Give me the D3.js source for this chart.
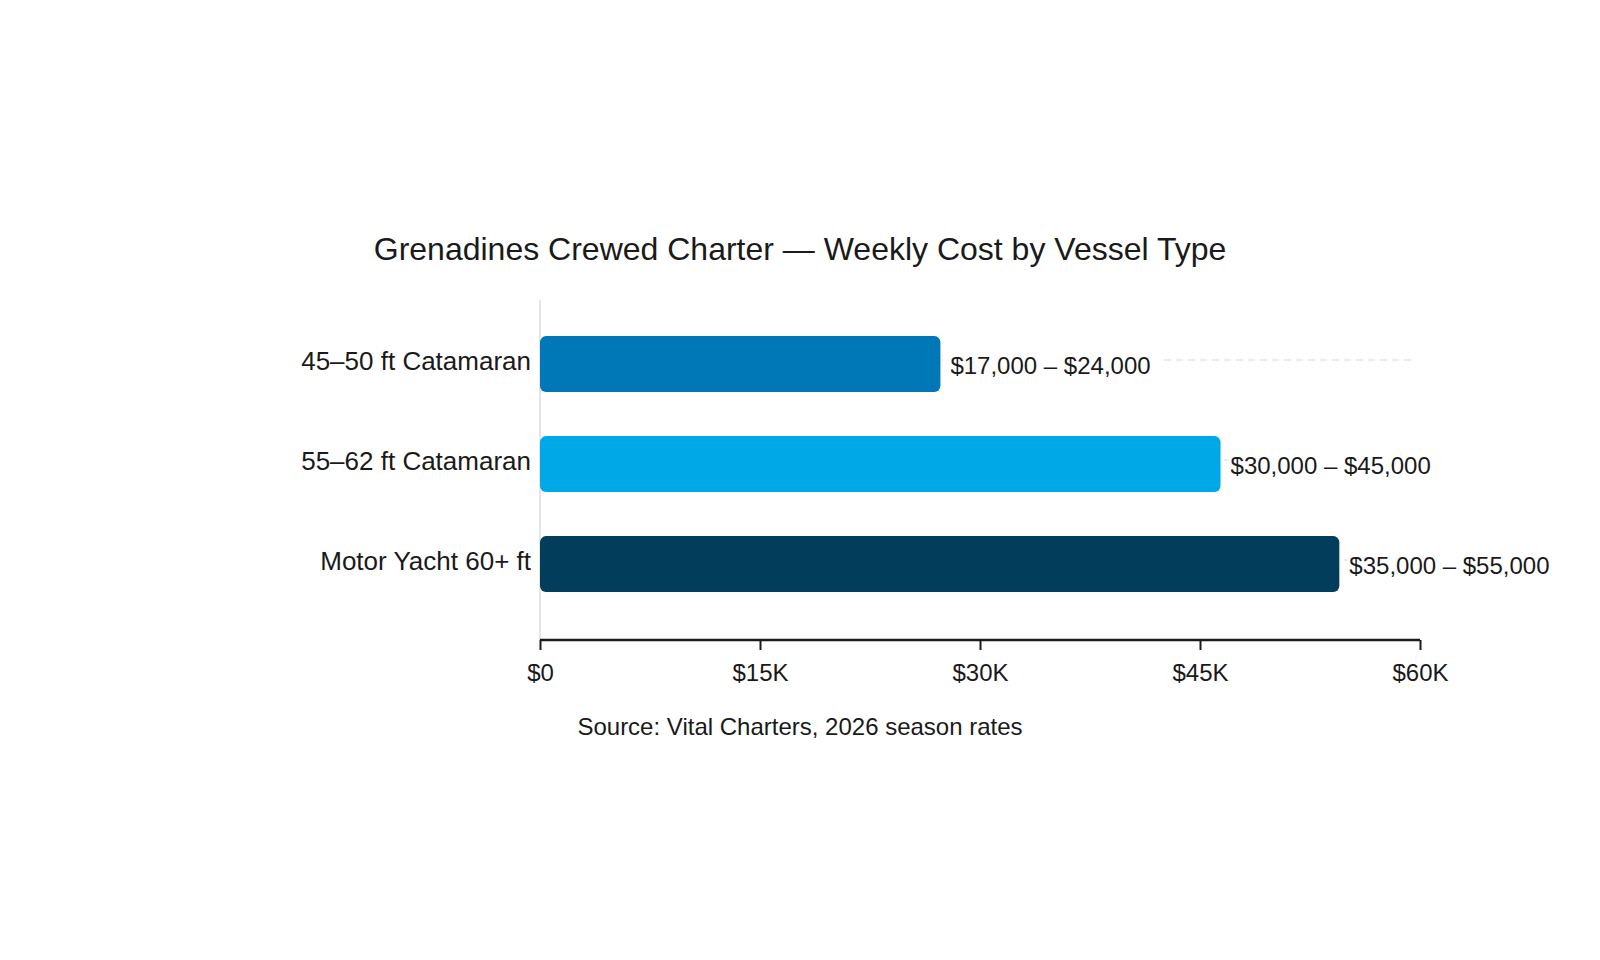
<!DOCTYPE html>
<html>
<head>
<meta charset="utf-8">
<script src="https://cdn.jsdelivr.net/npm/d3@7"></script>
<style>
  body { margin: 0; background: #fff; }
  svg { font-family: "Liberation Sans", Arial, Helvetica, sans-serif; }
</style>
</head>
<body>
<svg id="chart" width="1600" height="960"></svg>
<script>
// data
var vessels = ["45–50 ft Catamaran", "55–62 ft Catamaran", "Motor Yacht 60+ ft"];
var barValues = [27300, 46400, 54500];
var rangeLabels = ["$17,000 – $24,000", "$30,000 – $45,000", "$35,000 – $55,000"];
var barColors = ["#0077b6", "#00a8e8", "#023e5c"];
var tickValues = [0, 15000, 30000, 45000, 60000];
var tickLabels = ["$0", "$15K", "$30K", "$45K", "$60K"];

var rows = vessels.map(function(v, i){
    return {name: v, value: barValues[i], label: rangeLabels[i], color: barColors[i]};
});

var svg = d3.select("#chart");
var plotLeft = 540, plotRight = 1420, plotTop = 300, plotBottom = 640;

var x = d3.scaleLinear().domain([0, 60000]).range([plotLeft, plotRight]);
var y = d3.scaleBand()
    .domain(vessels)
    .range([plotTop, plotBottom])
    .paddingInner(0.44)
    .paddingOuter(0.42)
    .align(0.43);

// title
svg.append("text")
    .attr("x", 800)
    .attr("y", 260)
    .attr("text-anchor", "middle")
    .style("font-size", "32px")
    .style("fill", "#1a1a1a")
    .text("Grenadines Crewed Charter — Weekly Cost by Vessel Type");

// faint dashed guides behind the bars
svg.append("g")
    .selectAll("line")
    .data(rows)
    .enter()
    .append("line")
    .attr("x1", x(0))
    .attr("x2", x(59500))
    .attr("y1", function(d){ return y(d.name) + 24; })
    .attr("y2", function(d){ return y(d.name) + 24; })
    .style("stroke", "#e6e6e6")
    .style("stroke-width", 1.5)
    .style("stroke-dasharray", "7,5");

// y axis line
svg.append("line")
    .attr("x1", plotLeft).attr("x2", plotLeft)
    .attr("y1", plotTop).attr("y2", plotBottom)
    .style("stroke", "#dcdcdc")
    .style("stroke-width", 1.5);

// bars
svg.append("g")
    .selectAll("rect")
    .data(rows)
    .enter()
    .append("rect")
    .attr("x", x(0))
    .attr("y", function(d){ return y(d.name); })
    .attr("width", function(d){ return x(d.value) - x(0); })
    .attr("height", y.bandwidth())
    .attr("rx", 6)
    .style("fill", function(d){ return d.color; });

// value labels with white backing
var vl = svg.append("g")
    .selectAll("g")
    .data(rows)
    .enter()
    .append("g")
    .attr("transform", function(d){
        return "translate(" + (x(d.value) + 10) + "," + (y(d.name) + y.bandwidth() / 2 + 1) + ")";
    });

vl.append("rect")
    .attr("class", "bg")
    .style("fill", "#fff");

vl.append("text")
    .attr("dy", "0.35em")
    .style("font-size", "24px")
    .style("fill", "#1a1a1a")
    .text(function(d){ return d.label; });

vl.each(function(){
    var g = d3.select(this);
    var bb = g.select("text").node().getBBox();
    g.select("rect.bg")
        .attr("x", -2)
        .attr("y", bb.y)
        .attr("width", bb.width + 14)
        .attr("height", bb.height);
});

// category labels
svg.append("g")
    .selectAll("text")
    .data(rows)
    .enter()
    .append("text")
    .attr("x", plotLeft - 9)
    .attr("y", function(d){ return y(d.name) + y.bandwidth() / 2 - 3; })
    .attr("dy", "0.35em")
    .attr("text-anchor", "end")
    .style("font-size", "26px")
    .style("fill", "#1a1a1a")
    .text(function(d){ return d.name; });

// x axis
var xAxis = d3.axisBottom(x)
    .tickValues(tickValues)
    .tickFormat(function(d, i){ return tickLabels[i]; })
    .tickSize(10)
    .tickPadding(14);

var ax = svg.append("g")
    .attr("transform", "translate(0," + plotBottom + ")")
    .call(xAxis);

ax.select(".domain")
    .attr("d", "M" + plotLeft + ",0H" + plotRight)
    .style("stroke", "#1a1a1a")
    .style("stroke-width", 2.5);
ax.selectAll(".tick line")
    .style("stroke", "#1a1a1a")
    .style("stroke-width", 2);
ax.selectAll(".tick text")
    .style("font-size", "24px")
    .style("fill", "#1a1a1a")
    .style("font-family", "'Liberation Sans', Arial, sans-serif");

// source note
svg.append("text")
    .attr("x", 800)
    .attr("y", 735)
    .attr("text-anchor", "middle")
    .style("font-size", "24px")
    .style("fill", "#1a1a1a")
    .text("Source: Vital Charters, 2026 season rates");
</script>
</body>
</html>
